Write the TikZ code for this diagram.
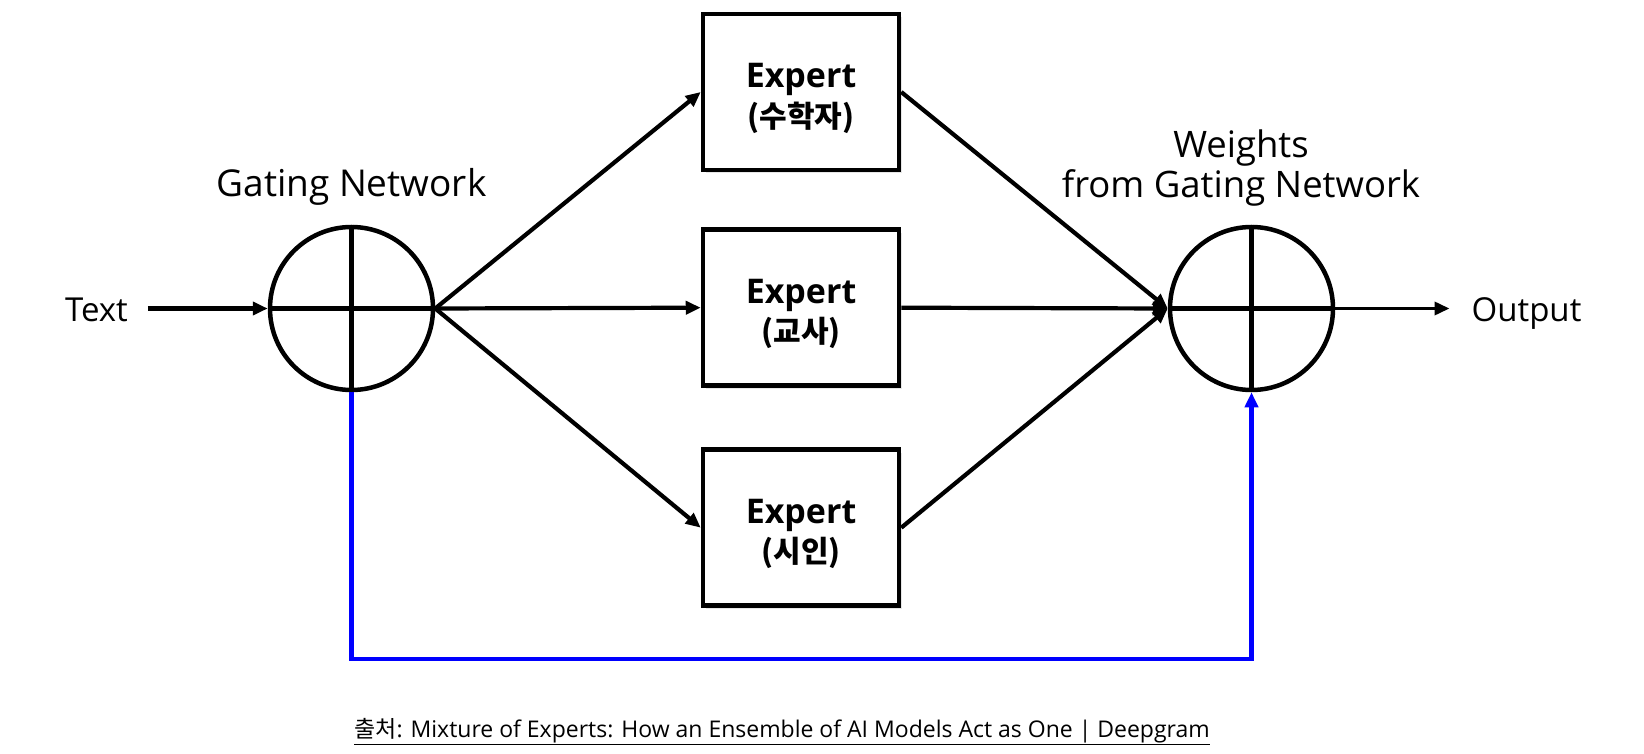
\documentclass[tikz,border=0pt]{standalone}
\usepackage{fontspec}
\setmainfont{Open Sans}
\newfontfamily\krfont{Noto Sans CJK KR}
\usetikzlibrary{arrows.meta,shadows}
\newcommand{\expertname}[1]{\rule{0pt}{37pt}Expert\\{\krfont\fontsize{30}{39}\selectfont(#1)}}

\begin{document}
\begin{tikzpicture}[x=1pt, y=-1pt, line width=4.2pt,
  tip/.style={-{Triangle[length=15pt, width=13pt]}}]
  \tikzset{sum/.style={circle, draw, line width=4.5pt, minimum size=163pt, inner sep=0pt}}
  \tikzset{expert/.style={draw, fill=white, line width=4.5pt, minimum width=196pt, minimum height=156pt,
    align=center, font=\fontsize{34}{39.5}\selectfont\bfseries,
    drop shadow={shadow xshift=3pt, shadow yshift=-3pt, opacity=0.2}}}
  \tikzset{lbl/.style={inner sep=0pt, font=\fontsize{33}{38.3}\selectfont}}
  \useasboundingbox (0,0) rectangle (1644,754);
  % sum nodes
  \node[sum] (g) at (351.5,308.5) {};
  \draw (g.west) -- (g.east);
  \draw (g.north) -- (g.south);
  \node[lbl, font=\fontsize{37}{40}\selectfont, anchor=base] (gl) at (351.5,196.7) {Gating Network};
  \node[sum] (w) at (1251.5,308.5) {};
  \draw (w.west) -- (w.east);
  \draw (w.north) -- (w.south);
  \node[lbl, align=center, font=\fontsize{36.5}{40}\selectfont] (wl) at (1241,168) {Weights\\from Gating Network};
  % experts
  \node[expert] (e1) at (801,92) {\expertname{수학자}};
  \node[expert] (e2) at (801,307.7) {\expertname{교사}};
  \node[expert] (e3) at (801,527.7) {\expertname{시인}};
  % in and out
  \node[lbl] (txt) at (96.5,310) {Text};
  \node[lbl, anchor=base] (out) at (1526.5,321.7) {Output};
  \draw[tip] (txt.east |- g) ++(18,0) -- (g.west);
  \draw[tip, line width=3.5pt] (w.east) -- ([xshift=-20pt]out.west |- w);
  % links
  \draw[tip] (g.east) -- (e1.west);
  \draw[tip] (g.east) -- (e2.west);
  \draw[tip] (g.east) -- (e3.west);
  \draw[tip] (e1.east) -- (w.west);
  \draw[tip] (e2.east) -- (w.west);
  \draw[tip] (e3.east) -- (w.west);
  % weights
  \coordinate (fb) at (1251.5,659);
  \draw[blue, line width=4.5pt, tip] (g.south) |- (fb) -- (w.south);
  % source
  \node[lbl, font=\fontsize{23}{26}\selectfont, anchor=base] (src) at (782,737)
    {\underline{{\krfont 출처}: Mixture of Experts: How an Ensemble of AI Models Act as One | Deepgram}};
\end{tikzpicture}
\end{document}
